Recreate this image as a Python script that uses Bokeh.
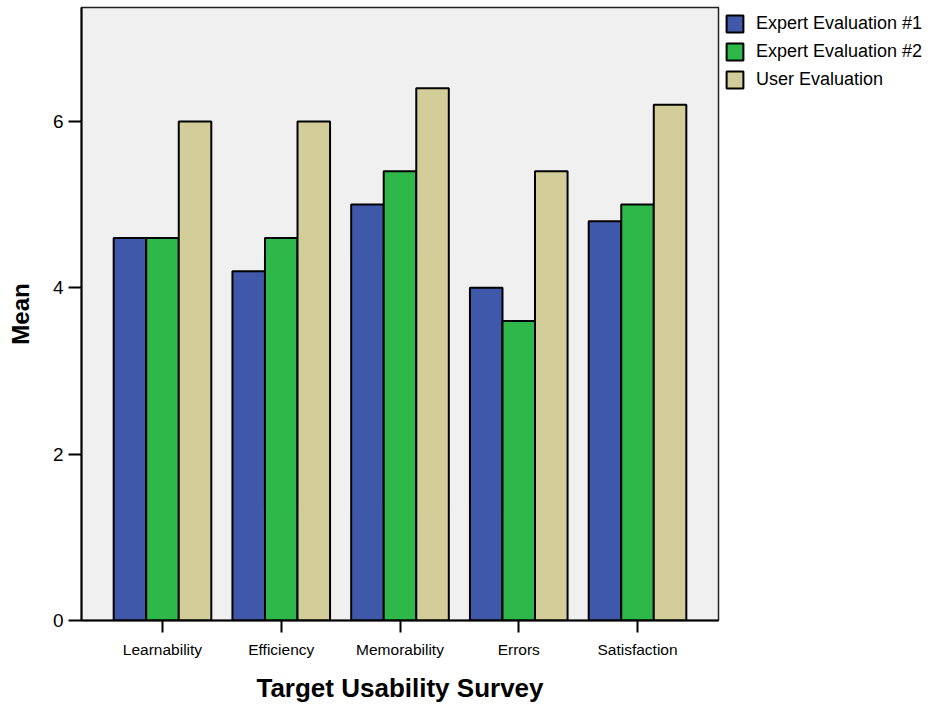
from bokeh.plotting import figure
from bokeh.models import ColumnDataSource, Range1d, FixedTicker, Legend, LegendItem
from bokeh.transform import dodge
from bokeh.embed import file_html
from bokeh.resources import INLINE

# Mean scores per usability dimension
categories = ["Learnability", "Efficiency", "Memorability", "Errors", "Satisfaction"]
expert_1 = [4.6, 4.2, 5.0, 4.0, 4.8]
expert_2 = [4.6, 4.6, 5.4, 3.6, 5.0]
user_eval = [6.0, 6.0, 6.4, 5.4, 6.2]
series_names = ["Expert Evaluation #1", "Expert Evaluation #2", "User Evaluation"]
series_colors = ["#3F58A9", "#2EB84A", "#D3CE99"]
y_ticks = [0, 2, 4, 6]

FONT = "Liberation Sans"

source = ColumnDataSource(dict(
    x=list(range(len(categories))),
    e1=expert_1,
    e2=expert_2,
    ue=user_eval,
))

p = figure(
    frame_width=637, frame_height=613,
    x_range=Range1d(-0.682, len(categories) - 1 + 0.682),
    y_range=Range1d(0, 7.37),
    output_backend="svg", toolbar_location=None,
    min_border_left=81, min_border_right=0,
    min_border_top=7, min_border_bottom=86,
)

bar_w = 0.274
fields = ["e1", "e2", "ue"]
offsets = [-bar_w, 0.0, bar_w]
renderers = []
for field, off, color in zip(fields, offsets, series_colors):
    r = p.vbar(x=dodge("x", off, range=p.x_range), top=field, width=bar_w,
               source=source, fill_color=color, line_color="black", line_width=2)
    renderers.append(r)

# Frame and background
p.background_fill_color = "#F0F0F0"
p.border_fill_color = "white"
p.outline_line_color = "#222222"
p.outline_line_width = 1.5
p.grid.visible = False

# X axis
xa = p.xaxis[0]
xa.ticker = FixedTicker(ticks=list(range(len(categories))))
xa.major_label_overrides = {i: c for i, c in enumerate(categories)}
xa.minor_tick_line_color = None
xa.major_tick_in = 0
xa.major_tick_out = 12
xa.major_tick_line_width = 2
xa.major_tick_line_color = "black"
xa.axis_line_width = 2
xa.axis_line_color = "black"
xa.major_label_text_font = FONT
xa.major_label_text_font_size = "15.5px"
xa.major_label_text_color = "black"
xa.major_label_standoff = 8
xa.axis_label = "Target Usability Survey"
xa.axis_label_text_font = FONT
xa.axis_label_text_font_size = "26px"
xa.axis_label_text_font_style = "bold"
xa.axis_label_text_color = "black"
xa.axis_label_standoff = 12

# Y axis
ya = p.yaxis[0]
ya.ticker = FixedTicker(ticks=y_ticks)
ya.minor_tick_line_color = None
ya.major_tick_in = 0
ya.major_tick_out = 13
ya.major_tick_line_width = 2
ya.major_tick_line_color = "black"
ya.axis_line_width = 2
ya.axis_line_color = "black"
ya.major_label_text_font = FONT
ya.major_label_text_font_size = "19px"
ya.major_label_text_color = "black"
ya.major_label_standoff = 5
ya.axis_label = "Mean"
ya.axis_label_text_font = FONT
ya.axis_label_text_font_size = "24px"
ya.axis_label_text_font_style = "bold"
ya.axis_label_text_color = "black"
ya.axis_label_standoff = 16

# Legend in the right-hand panel, next to the frame
legend = Legend(
    items=[LegendItem(label=n, renderers=[r]) for n, r in zip(series_names, renderers)],
    location="top_left",
    orientation="vertical",
    glyph_width=21, glyph_height=21,
    label_standoff=11,
    spacing=7,
    padding=0, margin=6,
    border_line_alpha=0,
    background_fill_alpha=0,
    label_text_font=FONT,
    label_text_font_size="18px",
    label_text_color="black",
)
p.add_layout(legend, "right")

open("out.html", "w").write(file_html(p, INLINE))
